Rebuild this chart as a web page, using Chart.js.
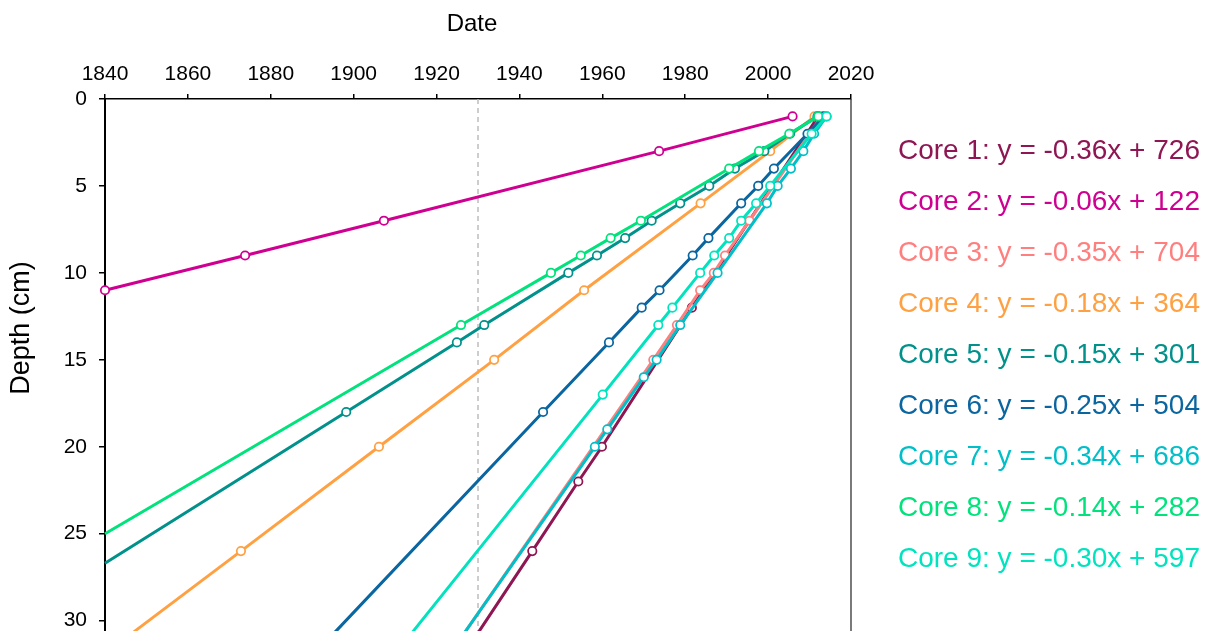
<!DOCTYPE html>
<html>
<head>
<meta charset="utf-8">
<script src="https://cdn.jsdelivr.net/npm/chart.js@4.4.1/dist/chart.umd.min.js"></script>
<style>
  html, body { margin: 0; padding: 0; background: #fff; overflow: hidden; }
  #wrap { width: 1209px; height: 700px; }
</style>
</head>
<body>
<div id="wrap"><canvas id="chart" width="1209" height="700"></canvas></div>
<script>
// Sediment core age-depth models: date of each dated layer vs. depth below surface.
const FONT = "'Liberation Sans', Arial, sans-serif";

const coreNames = ['Core 1', 'Core 2', 'Core 3', 'Core 4', 'Core 5', 'Core 6', 'Core 7', 'Core 8', 'Core 9'];
const coreColors = ['#8E1652', '#CF0091', '#FF7F7F', '#FFA142', '#00918B', '#0A66A0', '#00BFC8', '#00E27C', '#00E3BE'];
const slopes = [-0.36, -0.06, -0.35, -0.18, -0.15, -0.25, -0.34, -0.14, -0.30];
const intercepts = [726, 122, 704, 364, 301, 504, 686, 282, 597];

// dated layers (year AD) and their depths (cm)
const core1Dates = [2012.1, 1981.6, 1959.9, 1954.2, 1943.1];
const core1Depths = [1, 12, 20, 22, 26];
const core2Dates = [2005.9, 1973.7, 1907.3, 1873.8, 1840.0];
const core2Depths = [1, 3, 7, 9, 11];
const core3Dates = [2012.9, 1995.5, 1989.6, 1986.9, 1983.6, 1978.0, 1972.3];
const core3Depths = [1, 7, 9, 10, 11, 13, 15];
const core4Dates = [2011.2, 2000.5, 1983.7, 1955.6, 1933.9, 1906.1, 1872.8];
const core4Depths = [1, 3, 6, 11, 15, 20, 26];
const core5Dates = [2011.9, 2005.3, 1999.1, 1992.0, 1985.8, 1978.8, 1971.9, 1965.5, 1958.7, 1951.8, 1931.5, 1924.9, 1898.2];
const core5Depths = [1, 2, 3, 4, 5, 6, 7, 8, 9, 10, 13, 14, 18];
const core6Dates = [2013.5, 2009.5, 2001.4, 1997.6, 1993.5, 1985.6, 1981.8, 1973.8, 1969.5, 1961.6, 1945.7];
const core6Depths = [1, 2, 4, 5, 6, 8, 9, 11, 12, 14, 18];
const core7Dates = [2014.1, 2011.1, 2008.5, 2005.5, 2002.3, 1999.7, 1987.8, 1978.8, 1973.1, 1970.0, 1961.2, 1958.2];
const core7Depths = [1, 2, 3, 4, 5, 6, 10, 13, 15, 16, 19, 20];
const core8Dates = [2012.1, 2005.1, 1997.8, 1990.6, 1969.3, 1962.0, 1954.8, 1947.6, 1925.9];
const core8Depths = [1, 2, 3, 4, 7, 8, 9, 10, 13];
const core9Dates = [2014.1, 2010.5, 2000.5, 1997.1, 1993.5, 1990.6, 1987.0, 1983.6, 1976.9, 1973.5, 1960.1];
const core9Depths = [1, 2, 5, 6, 7, 8, 9, 10, 12, 13, 17];

// where each model line is continued below the deepest dated layer [year, depth]
const core1LineEnd = [1926.4, 32];
const core2LineEnd = null;
const core3LineEnd = [1923.0, 32];
const core4LineEnd = [1840.0, 31.9];
const core5LineEnd = [1840.0, 26.7];
const core6LineEnd = [1890.2, 32];
const core7LineEnd = [1922.9, 32];
const core8LineEnd = [1840.0, 25.0];
const core9LineEnd = [1909.7, 32];

const xTicks = [1840, 1860, 1880, 1900, 1920, 1940, 1960, 1980, 2000, 2020];
const yTicks = [0, 5, 10, 15, 20, 25, 30];
const markerYear = 1930;

const cores = [
  [core1Dates, core1Depths, core1LineEnd],
  [core2Dates, core2Depths, core2LineEnd],
  [core3Dates, core3Depths, core3LineEnd],
  [core4Dates, core4Depths, core4LineEnd],
  [core5Dates, core5Depths, core5LineEnd],
  [core6Dates, core6Depths, core6LineEnd],
  [core7Dates, core7Depths, core7LineEnd],
  [core8Dates, core8Depths, core8LineEnd],
  [core9Dates, core9Depths, core9LineEnd]
];

const equationLabels = coreNames.map((n, i) =>
  `${n}: y = ${slopes[i].toFixed(2)}x + ${intercepts[i]}`);

const datasets = cores.map(([dates, depths, end], i) => {
  const pts = dates.map((d, j) => ({ x: d, y: depths[j] }));
  const radii = pts.map(() => 4.2);
  if (end) { pts.push({ x: end[0], y: end[1] }); radii.push(0); }
  return {
    label: coreNames[i],
    data: pts,
    showLine: true,
    borderColor: coreColors[i],
    backgroundColor: coreColors[i],
    borderWidth: 3,
    pointRadius: radii,
    pointHoverRadius: radii,
    pointBackgroundColor: '#ffffff',
    pointBorderColor: coreColors[i],
    pointBorderWidth: 1.75,
    tension: 0,
    clip: false,
    order: 10 - i
  };
});

const Y_MAX = 33.15;
datasets.push({
  label: 'reference',
  data: [{ x: markerYear, y: 0 }, { x: markerYear, y: Y_MAX }],
  showLine: true,
  borderColor: '#BDBDBD',
  borderWidth: 1.5,
  borderDash: [5, 4],
  pointRadius: 0,
  order: 20
});

// axis titles, right frame edge and equation labels
const decorations = {
  id: 'decorations',
  afterDraw(chart) {
    const { ctx, chartArea } = chart;
    ctx.save();
    ctx.strokeStyle = '#222';
    ctx.lineWidth = 1.2;
    ctx.beginPath();
    ctx.moveTo(chartArea.right, chartArea.top);
    ctx.lineTo(chartArea.right, chartArea.bottom);
    ctx.stroke();

    ctx.fillStyle = '#000';
    ctx.font = `24px ${FONT}`;
    ctx.textAlign = 'center';
    ctx.textBaseline = 'middle';
    ctx.fillText('Date', 472, 24);

    ctx.save();
    ctx.translate(22, 328);
    ctx.rotate(-Math.PI / 2);
    ctx.font = `27px ${FONT}`;
    ctx.fillText('Depth (cm)', 0, 0);
    ctx.restore();

    ctx.font = `28px ${FONT}`;
    ctx.textAlign = 'left';
    ctx.textBaseline = 'alphabetic';
    equationLabels.forEach((t, i) => {
      ctx.fillStyle = coreColors[i];
      ctx.fillText(t, 898, 159.3 + 50.9 * i);
    });
    ctx.restore();
  }
};

new Chart(document.getElementById('chart'), {
  type: 'scatter',
  data: { datasets },
  plugins: [decorations],
  options: {
    responsive: false,
    devicePixelRatio: 1,
    animation: false,
    events: [],
    layout: { padding: { left: 0, right: 358, top: 0, bottom: 0 } },
    plugins: { legend: { display: false }, tooltip: { enabled: false } },
    scales: {
      x: {
        type: 'linear',
        position: 'top',
        min: xTicks[0],
        max: xTicks[xTicks.length - 1],
        afterBuildTicks: s => { s.ticks = xTicks.map(v => ({ value: v })); },
        afterFit: s => { s.height = 99; },
        ticks: {
          color: '#000',
          font: { family: FONT, size: 21 },
          padding: 7,
          maxRotation: 0,
          autoSkip: false,
          callback: v => String(v)
        },
        grid: { drawOnChartArea: false, drawTicks: true, tickLength: 5, color: '#000', lineWidth: 1.5 },
        border: { display: true, color: '#000', width: 1.5 }
      },
      y: {
        type: 'linear',
        position: 'left',
        reverse: true,
        min: 0,
        max: Y_MAX,
        afterBuildTicks: s => { s.ticks = yTicks.map(v => ({ value: v })); },
        afterFit: s => { s.width = 105; },
        ticks: {
          color: '#000',
          font: { family: FONT, size: 21 },
          padding: 12,
          autoSkip: false,
          callback: v => String(v)
        },
        grid: { drawOnChartArea: false, drawTicks: true, tickLength: 6, color: '#000', lineWidth: 1.5 },
        border: { display: true, color: '#000', width: 2 }
      }
    }
  }
});
</script>
</body>
</html>
